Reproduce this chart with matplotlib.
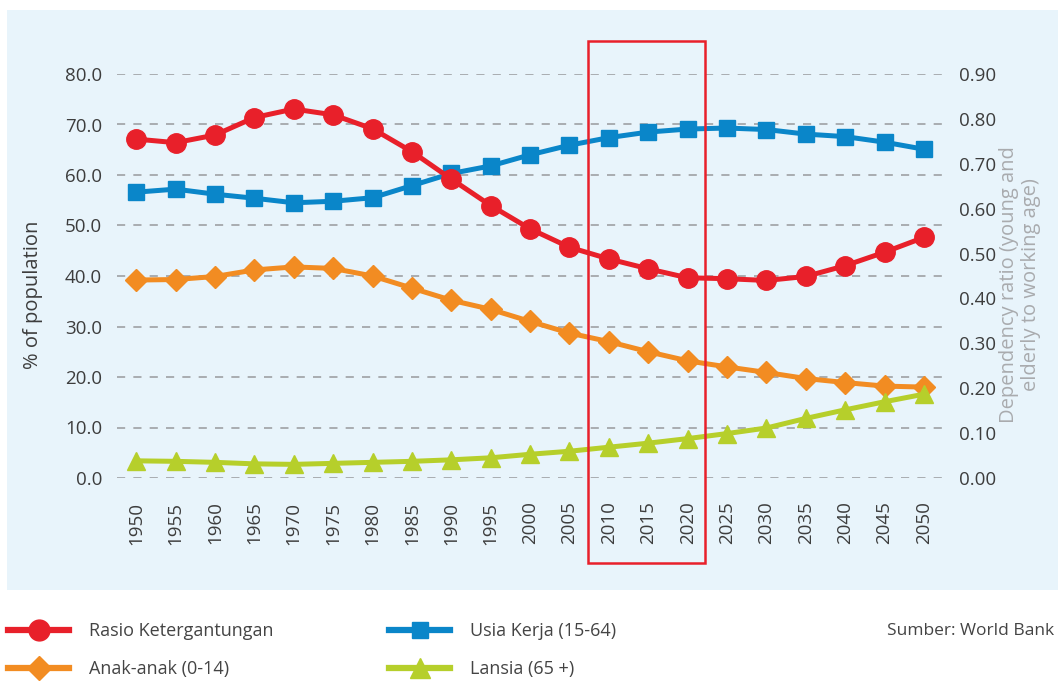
import numpy as np
import matplotlib
matplotlib.use("Agg")
import matplotlib.pyplot as plt
from matplotlib.patches import Rectangle
from matplotlib.lines import Line2D
import matplotlib.transforms as mtransforms

plt.rcParams['font.family'] = ['Open Sans', 'DejaVu Sans']

years = list(range(1950, 2051, 5))
rasio = [0.755, 0.747, 0.764, 0.803, 0.822, 0.809, 0.778, 0.727, 0.666, 0.607, 0.555,
         0.514, 0.488, 0.466, 0.446, 0.444, 0.440, 0.449, 0.473, 0.503, 0.536]
usia_kerja = [56.6, 57.2, 56.2, 55.4, 54.5, 54.8, 55.5, 57.9, 60.3, 61.8, 64.0,
              65.9, 67.4, 68.5, 69.1, 69.3, 69.0, 68.1, 67.6, 66.5, 65.1]
anak = [39.2, 39.3, 39.9, 41.2, 41.8, 41.5, 40.0, 37.6, 35.2, 33.4, 31.0,
        28.7, 27.0, 25.0, 23.2, 22.0, 20.9, 19.7, 18.9, 18.2, 18.0]
lansia = [3.4, 3.3, 3.1, 2.8, 2.7, 2.9, 3.1, 3.3, 3.6, 4.0, 4.7,
          5.3, 6.1, 6.9, 7.8, 8.8, 9.9, 11.8, 13.5, 15.1, 16.6]
left_ticks = np.arange(0, 81, 10)
right_ticks = np.arange(0, 0.91, 0.1)
highlight = (2007.4, 2022.2)

RED = '#E8202A'
BLUE = '#0A86C9'
ORANGE = '#F28C22'
GREEN = '#B6CF2B'
TXT = '#3d3d3d'

fig = plt.figure(figsize=(10.58, 6.81), dpi=100)
fig.patch.set_facecolor('white')
bg = Rectangle((7 / 1058, 1 - 590 / 681), 1 - 7 / 1058, 580 / 681,
               transform=fig.transFigure, facecolor='#E8F4FB',
               edgecolor='none', zorder=-10)
fig.patches.append(bg)

ax = fig.add_axes([117.3 / 1058, 1 - 478 / 681, 824.4 / 1058, 404 / 681])
ax.set_facecolor('none')
ax2 = ax.twinx()

ax.plot(years, usia_kerja, color=BLUE, lw=3.6, marker='s', ms=12, clip_on=False, zorder=3)
ax.plot(years, anak, color=ORANGE, lw=3.6, marker='D', ms=11, clip_on=False, zorder=3)
ax.plot(years, lansia, color=GREEN, lw=3.6, marker='^', ms=13, clip_on=False, zorder=4)
ax2.plot(years, rasio, color=RED, lw=3.6, marker='o', ms=14, clip_on=False, zorder=5)

ax.set_xlim(1947.6, 2052.25)
ax.set_ylim(0, 80)
ax2.set_ylim(0, 0.9)
ax.set_xticks(years)
ax.set_xticklabels([str(y) for y in years], rotation=90)
ax.set_yticks(left_ticks)
ax.set_yticklabels([f"{v:.1f}" for v in left_ticks])
ax2.set_yticks(right_ticks)
ax2.set_yticklabels([f"{v:.2f}" for v in right_ticks])

ax.grid(axis='y', color='#A9ADB0', linestyle=(0, (4.2, 4.2)), lw=1.4)
ax.grid(axis='x', visible=False)
ax.set_axisbelow(True)
for a in (ax, ax2):
    for s in a.spines.values():
        s.set_visible(False)
ax.tick_params(axis='x', length=0, pad=17, labelsize=13.5, labelcolor=TXT)
ax.tick_params(axis='y', length=0, pad=11, labelsize=13.5, labelcolor=TXT)
ax2.tick_params(axis='y', length=0, pad=12.5, labelsize=13.5, labelcolor=TXT)

# highlighted 2010-2020 box
trans = mtransforms.blended_transform_factory(ax.transData, fig.transFigure)
ax2.add_patch(Rectangle((highlight[0], 1 - 563 / 681), highlight[1] - highlight[0], 522 / 681,
                        transform=trans, fill=False, edgecolor=RED, lw=1.8,
                        clip_on=False, zorder=6))

fig.text(33 / 1058, 1 - 295 / 681, "% of population", rotation=90, ha='center',
         va='center', fontsize=14.5, color=TXT)
fig.text(1020 / 1058, 1 - 285 / 681, "Dependency ratio (young and\nelderly to working age)",
         rotation=90, ha='center', va='center', multialignment='center',
         fontsize=14.5, color='#A9ABAE', linespacing=1.15)

h_rasio = Line2D([], [], color=RED, lw=4.5, marker='o', ms=15)
h_usia = Line2D([], [], color=BLUE, lw=4.5, marker='s', ms=12)
h_anak = Line2D([], [], color=ORANGE, lw=4.5, marker='D', ms=12)
h_lansia = Line2D([], [], color=GREEN, lw=4.5, marker='^', ms=14)

leg_kw = dict(loc='center left', frameon=False, handlelength=3.4, handletextpad=1.1,
              labelspacing=1.1, borderpad=0, borderaxespad=0, fontsize=13,
              labelcolor='#444444')
fig.legend([h_rasio, h_anak], ["Rasio Ketergantungan", "Anak-anak (0-14)"],
           bbox_to_anchor=(8 / 1058, 1 - 650 / 681), **leg_kw)
fig.legend([h_usia, h_lansia], ["Usia Kerja (15-64)", "Lansia (65 +)"],
           bbox_to_anchor=(389 / 1058, 1 - 650 / 681), **leg_kw)
fig.text(1054 / 1058, 1 - 631 / 681, "Sumber: World Bank", ha='right', va='center',
         fontsize=12.5, color='#444444')

fig.savefig("out.png", dpi=100)
